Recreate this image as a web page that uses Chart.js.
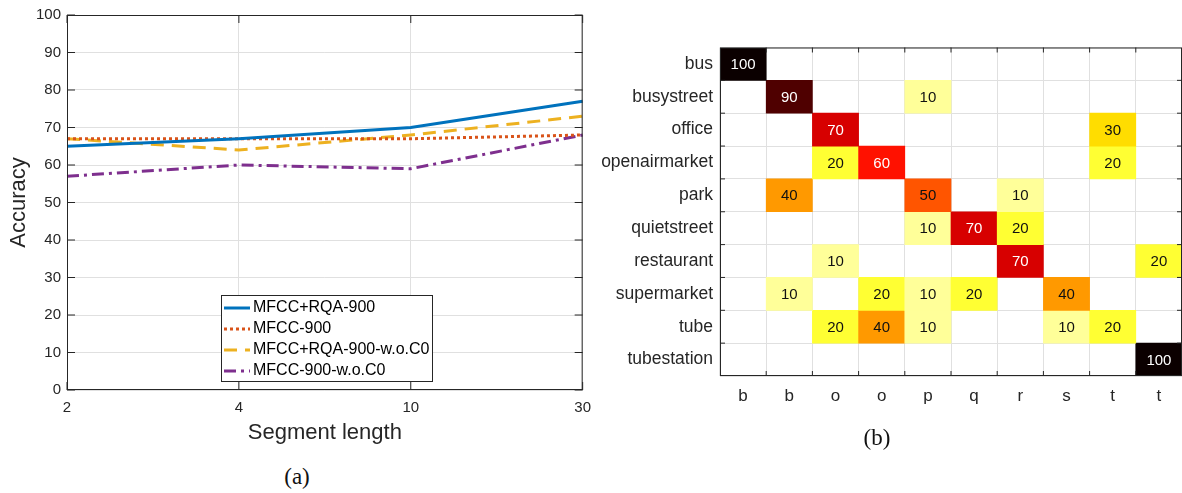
<!DOCTYPE html>
<html>
<head>
<meta charset="utf-8">
<script src="https://cdn.jsdelivr.net/npm/chart.js@4.4.1/dist/chart.umd.min.js"></script>
<style>
  html, body { margin: 0; padding: 0; background: #fff; }
  body { width: 1182px; height: 493px; position: relative; overflow: hidden; }
  #wrapA { position: absolute; left: 0; top: 0; width: 600px; height: 460px; }
  #wrapB { position: absolute; left: 600px; top: 30px; width: 582px; height: 400px; }
  .cap { position: absolute; font-family: 'Liberation Serif', serif; font-size: 23px; color: #111;
         transform: translate(-50%, -50%); white-space: nowrap; }
</style>
</head>
<body>
<div id="wrapA"><canvas id="accChart"></canvas></div>
<div id="wrapB"><canvas id="confChart"></canvas></div>
<div class="cap" style="left:297px; top:477px;">(a)</div>
<div class="cap" style="left:877px; top:438px;">(b)</div>
<script>
// (a) accuracy vs segment length
const segmentLengths = ['2', '4', '10', '30'];
const accMfccRqa = [65, 67, 70, 77];
const accMfcc = [67, 67, 67, 68];
const accMfccRqaNoC0 = [67, 64, 68, 73];
const accMfccNoC0 = [57, 60, 59, 68];
const accTicks = [0, 10, 20, 30, 40, 50, 60, 70, 80, 90, 100];

// (b) confusion matrix
const sceneNames = ['bus', 'busystreet', 'office', 'openairmarket', 'park',
  'quietstreet', 'restaurant', 'supermarket', 'tube', 'tubestation'];
const predictedTicks = ['b', 'b', 'o', 'o', 'p', 'q', 'r', 's', 't', 't'];
const confusion = [
  [100, 0, 0, 0, 0, 0, 0, 0, 0, 0],
  [0, 90, 0, 0, 10, 0, 0, 0, 0, 0],
  [0, 0, 70, 0, 0, 0, 0, 0, 30, 0],
  [0, 0, 20, 60, 0, 0, 0, 0, 20, 0],
  [0, 40, 0, 0, 50, 0, 10, 0, 0, 0],
  [0, 0, 0, 0, 10, 70, 20, 0, 0, 0],
  [0, 0, 10, 0, 0, 0, 70, 0, 0, 20],
  [0, 10, 0, 20, 10, 20, 0, 40, 0, 0],
  [0, 0, 20, 40, 10, 0, 0, 10, 20, 0],
  [0, 0, 0, 0, 0, 0, 0, 0, 0, 100],
];

const FONT = "'Liberation Sans', Arial, sans-serif";
const AXIS = '#262626';
const GRID = '#e0e0e0';

Chart.defaults.font.family = FONT;
Chart.defaults.color = AXIS;
Chart.defaults.animation = false;

// matlab-style box with inward ticks
const boxTicks = {
  id: 'boxTicks',
  afterDatasetsDraw(chart, args, opts) {
    const { ctx, chartArea: a } = chart;
    const len = opts.len || 6;
    ctx.save();
    ctx.strokeStyle = AXIS;
    ctx.lineWidth = 1;
    ctx.strokeRect(a.left + 0.5, a.top + 0.5, a.width - 1, a.height - 1);
    ctx.beginPath();
    opts.xs(chart).forEach(px => {
      ctx.moveTo(px, a.bottom); ctx.lineTo(px, a.bottom - len);
      ctx.moveTo(px, a.top); ctx.lineTo(px, a.top + len);
    });
    opts.ys(chart).forEach(py => {
      ctx.moveTo(a.left, py); ctx.lineTo(a.left + len, py);
      ctx.moveTo(a.right, py); ctx.lineTo(a.right - len, py);
    });
    ctx.stroke();
    ctx.restore();
  }
};

// legend drawn inside the plot, like the matlab one
const innerLegend = {
  id: 'innerLegend',
  afterDraw(chart, args, o) {
    const { ctx } = chart;
    ctx.save();
    ctx.fillStyle = '#fff';
    ctx.fillRect(o.x, o.y, o.w, o.h);
    ctx.strokeStyle = AXIS;
    ctx.lineWidth = 1;
    ctx.strokeRect(o.x + 0.5, o.y + 0.5, o.w, o.h);
    ctx.font = '16px ' + FONT;
    ctx.textBaseline = 'middle';
    chart.data.datasets.forEach((ds, i) => {
      const cy = o.y + 13 + i * 21;
      ctx.strokeStyle = ds.borderColor;
      ctx.lineWidth = ds.borderWidth;
      ctx.setLineDash(ds.borderDash || []);
      ctx.beginPath();
      ctx.moveTo(o.x + 3, cy);
      ctx.lineTo(o.x + 29, cy);
      ctx.stroke();
      ctx.setLineDash([]);
      ctx.fillStyle = '#000';
      ctx.fillText(ds.label, o.x + 32, cy);
    });
    ctx.restore();
  }
};

new Chart(document.getElementById('accChart'), {
  type: 'line',
  data: {
    labels: segmentLengths,
    datasets: [
      { label: 'MFCC+RQA-900', data: accMfccRqa, borderColor: '#0072BD', borderWidth: 3 },
      { label: 'MFCC-900', data: accMfcc, borderColor: '#D95319', borderWidth: 3, borderDash: [3, 3] },
      { label: 'MFCC+RQA-900-w.o.C0', data: accMfccRqaNoC0, borderColor: '#EDB120', borderWidth: 3, borderDash: [13, 8] },
      { label: 'MFCC-900-w.o.C0', data: accMfccNoC0, borderColor: '#7E2F8E', borderWidth: 3, borderDash: [12, 5, 3, 5] },
    ],
  },
  options: {
    responsive: true,
    maintainAspectRatio: false,
    layout: { padding: { top: 12, right: 13, left: 0, bottom: 14 } },
    elements: { point: { radius: 0 }, line: { tension: 0, borderCapStyle: 'butt' } },
    scales: {
      x: {
        offset: false,
        grid: { color: GRID, drawTicks: false },
        border: { display: false },
        ticks: { font: { size: 15 }, padding: 9, maxRotation: 0 },
        title: { display: true, text: 'Segment length', font: { size: 22 }, padding: 0 },
        afterFit: s => { s.height = 56; },
      },
      y: {
        min: 0,
        max: 100,
        afterBuildTicks: s => { s.ticks = accTicks.map(v => ({ value: v })); },
        grid: { color: GRID, drawTicks: false },
        border: { display: false },
        ticks: { font: { size: 15 }, padding: 6 },
        title: { display: true, text: 'Accuracy', font: { size: 22 }, padding: { top: 6, bottom: 0 } },
        afterFit: s => { s.width = 67; },
      },
    },
    plugins: {
      legend: { display: false },
      tooltip: { enabled: false },
      boxTicks: {
        len: 8,
        xs: c => segmentLengths.map((_, i) => c.scales.x.getPixelForValue(i)),
        ys: c => accTicks.map(v => c.scales.y.getPixelForValue(v)),
      },
      innerLegend: { x: 221, y: 295, w: 211, h: 86 },
    },
  },
  plugins: [boxTicks, innerLegend],
});

// reversed matlab "hot" colormap, 0 -> white
function hot(v) {
  if (!v) return 'rgba(0,0,0,0)';
  const t = 1 - v / 100;
  const r = Math.min(1, 0.0417 + t / 0.375);
  const g = Math.max(0, Math.min(1, (t - 0.375) / 0.375));
  const b = Math.max(0, Math.min(1, (t - 0.75) / 0.25));
  return `rgb(${Math.round(r * 255)},${Math.round(g * 255)},${Math.round(b * 255)})`;
}

const cellText = {
  id: 'cellText',
  afterDatasetsDraw(chart) {
    const { ctx } = chart;
    ctx.save();
    ctx.font = '15px ' + FONT;
    ctx.textAlign = 'center';
    ctx.textBaseline = 'middle';
    chart.data.datasets.forEach((ds, r) => {
      chart.getDatasetMeta(r).data.forEach((bar, c) => {
        const v = ds.values[c];
        if (!v) return;
        ctx.fillStyle = v >= 60 ? '#fff' : '#111';
        ctx.fillText(String(v), bar.x, (bar.y + bar.base) / 2 + 1);
      });
    });
    ctx.restore();
  }
};

new Chart(document.getElementById('confChart'), {
  type: 'bar',
  data: {
    labels: predictedTicks,
    datasets: confusion.map((row, r) => ({
      label: sceneNames[r],
      data: row.map(v => (v > 0 ? [r, r + 1] : null)),
      values: row,
      backgroundColor: row.map(hot),
      borderWidth: 0,
      grouped: false,
      barPercentage: 1,
      categoryPercentage: 1,
      yAxisID: 'y',
    })),
  },
  options: {
    responsive: true,
    maintainAspectRatio: false,
    layout: { padding: { top: 17, right: 0, left: 0, bottom: 24 } },
    scales: {
      x: {
        grid: { color: GRID, drawTicks: false, offset: true },
        border: { display: false },
        ticks: { font: { size: 17 }, padding: 10, maxRotation: 0, autoSkip: false },
        afterFit: s => { s.height = 30; },
      },
      y: {
        type: 'linear',
        min: 0,
        max: 10,
        reverse: true,
        ticks: { display: false, stepSize: 1 },
        grid: { color: GRID, drawTicks: false },
        border: { display: false },
        afterFit: s => { s.width = 0; },
      },
      rows: {
        type: 'category',
        position: 'left',
        labels: sceneNames,
        offset: true,
        grid: { display: false, drawTicks: false },
        border: { display: false },
        ticks: { font: { size: 17.5 }, padding: 7, autoSkip: false },
        afterFit: s => { s.width = 120; },
      },
    },
    plugins: {
      legend: { display: false },
      tooltip: { enabled: false },
      boxTicks: {
        len: 5,
        xs: c => {
          const x = c.scales.x;
          const half = (x.getPixelForValue(1) - x.getPixelForValue(0)) / 2;
          return predictedTicks.map((_, i) => x.getPixelForValue(i) + half).slice(0, -1);
        },
        ys: c => sceneNames.map((_, i) => c.scales.y.getPixelForValue(i + 1)).slice(0, -1),
      },
    },
  },
  plugins: [boxTicks, cellText],
});
</script>
</body>
</html>
